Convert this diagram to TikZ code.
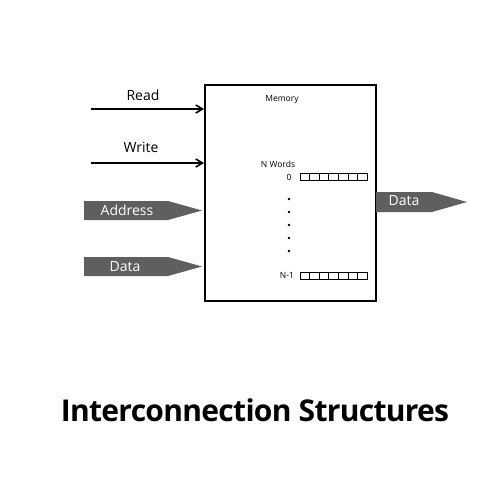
\documentclass[tikz,border=0pt]{standalone}
\usepackage{fontspec}
\setmainfont{Open Sans}
\newfontfamily\titlefont[LetterSpace=-2.3]{Open Sans}
\usetikzlibrary{arrows.meta,calc}
\definecolor{bus}{HTML}{5F5F5F}
\begin{document}
\begin{tikzpicture}[x=0.75pt,y=-0.75pt,
  lbl/.style={font=\fontsize{10.5pt}{12pt}\selectfont,inner sep=0pt},
  small/.style={font=\fontsize{6.4pt}{7pt}\selectfont,inner sep=0pt},
  buslbl/.style={font=\fontsize{10.5pt}{12pt}\selectfont,text=white,inner sep=0pt},
  busshape/.style={fill=bus,draw=none},
  sig/.style={line width=1.5pt,-{Straight Barb[length=5pt,width=6pt,line width=1.2pt]}},
  cell/.style={draw,line width=0.6pt,minimum width=7.2pt,minimum height=5.2pt,inner sep=0pt,outer sep=0pt}]
\useasboundingbox (0,0) rectangle (500,500);
\fill[white] (0,0) rectangle (500,500);
% memory box
\node[draw,line width=1.5pt,minimum width=171*0.75pt,minimum height=216*0.75pt,inner sep=0pt,anchor=north west] (mem) at (204,84) {};
\node[small] (memlbl) at (282,99) {Memory};
\node[small] (nw) at (278,164) {N Words};
\node[small] (z) at (289,177) {0};
\node[small] (nm) at (287,275) {N-1};
% registers
\foreach \i in {0,...,6}{
  \node[cell,anchor=north west] (r0\i) at ({300+\i*9.6},173.5) {};
  \node[cell,anchor=north west] (r1\i) at ({300+\i*9.6},272) {};
}
% dots
\foreach \yy [count=\k] in {199,212,225,238,251}{
  \fill (289,\yy) circle (1.1pt) coordinate (d\k);
}
% Read / Write
\coordinate (rs) at (91,109);
\coordinate (ws) at (91,163);
\node[lbl] (read) at (143,95) {Read};
\node[lbl] (write) at (141,147) {Write};
\draw[sig] (rs) -- (rs -| mem.west);
\draw[sig] (ws) -- (ws -| mem.west);
% Address bus
\fill[busshape] (84,201) -- (168,201) -- (202,210.5) -- (168,220) -- (84,220) -- cycle;
\node[buslbl] (addr) at (127,210.5) {Address};
% Data in
\fill[busshape] (84,257) -- (168,257) -- (202,266.5) -- (168,276) -- (84,276) -- cycle;
\node[buslbl] (din) at (125,266.5) {Data};
% Data out
\fill[busshape] (376,192) -- (432,192) -- (467,202) -- (432,212) -- (376,212) -- cycle;
\node[buslbl] (dout) at (404,201) {Data};
% title
\node[font=\titlefont\fontsize{22.5pt}{27pt}\selectfont\bfseries,inner sep=0pt] (title) at (255,410) {Interconnection Structures};
\end{tikzpicture}
\end{document}
